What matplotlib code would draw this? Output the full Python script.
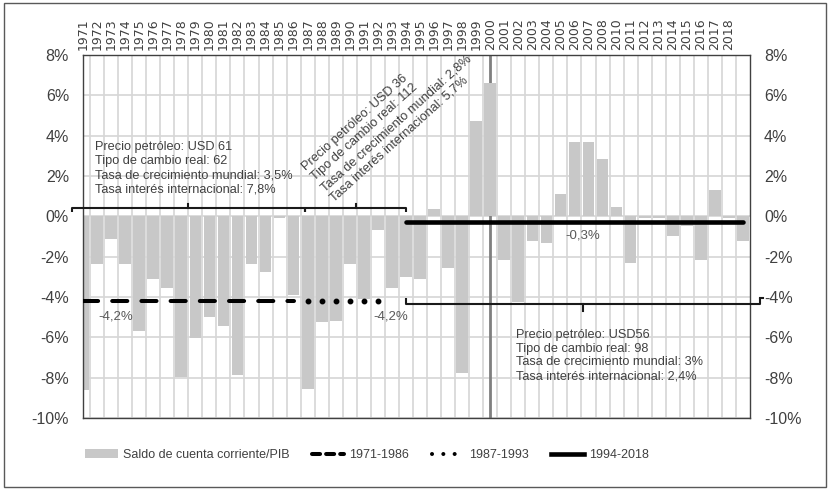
import matplotlib.pyplot as plt
from matplotlib.lines import Line2D
from matplotlib.patches import Patch, Rectangle
import numpy as np

plt.rcParams['font.family'] = ['Liberation Sans', 'DejaVu Sans']

# categorias (la etiqueta 2009 no aparece en el original)
years = [str(y) for y in range(1971, 2009)] + [str(y) for y in range(2010, 2019)] + [""]

# saldo de cuenta corriente / PIB (%)
saldo_cc = [-8.6, -2.35, -1.1, -2.35, -5.7, -3.1, -3.55, -7.95, -6.05, -5.0,
            -5.45, -7.85, -2.35, -2.75, -0.1, -3.9, -8.55, -5.25, -5.2, -2.35,
            -4.1, -0.7, -3.55, -3.0, -3.1, 0.35, -2.55, -7.75, 4.75, 6.6,
            -2.15, -4.25, -1.2, -1.3, 1.1, 3.7, 3.7, 2.85, 0.45, -2.3,
            -0.1, -0.1, -1.0, -0.5, -2.15, 1.3, -0.1, -1.2]

# promedios por periodo
prom_71_86 = [-4.2] * 16
prom_87_93 = [-4.2] * 6
prom_94_18 = [-0.3] * 25

yticks = [-10, -8, -6, -4, -2, 0, 2, 4, 6, 8]

bar_color = '#c8c8c8'
grid_color = '#d6d6d6'
txt = '#404040'
fs = 9.2

x = np.arange(len(years))

fig = plt.figure(figsize=(8.3, 4.9), dpi=100)
ax = fig.add_axes([83 / 830, 1 - 418 / 490, 667 / 830, 363 / 490])

ax.bar(x, saldo_cc, width=0.83, color=bar_color, zorder=2)
ax.axvline(years.index("2000"), color='#7f7f7f', lw=2.0, zorder=1.5)

ax.plot(x[:16], prom_71_86, color='k', lw=2.9, dashes=(3.75, 3.5),
        dash_capstyle='round', zorder=3)
ax.plot(x[16:22], prom_87_93, ls='none', marker='o', ms=3.2, color='k', zorder=3)
ax.plot(x[23:48], prom_94_18, color='k', lw=3.3, solid_capstyle='round', zorder=3)

ax.set_xlim(0, 47.5)
ax.set_ylim(-10, 8)
ax.set_axisbelow(True)

ax.xaxis.tick_top()
ax.set_xticks(x)
ax.set_xticklabels(years, rotation=90, fontfamily='DejaVu Sans', fontsize=9, color=txt)
ax.set_xticks(np.arange(0.5, 47.5, 1), minor=True)
ax.tick_params(axis='x', which='both', length=0, pad=3.5)
ax.grid(which='minor', axis='x', color=grid_color, lw=1.2)

ax.set_yticks(yticks)
ax.set_yticklabels([f"{v}%" for v in yticks], fontsize=11.5, color=txt)
ax.tick_params(axis='y', length=0, labelleft=True, labelright=True, pad=10)
ax.grid(which='major', axis='y', color=grid_color, lw=1.2)

for s in ax.spines.values():
    s.set_color('#404040')
    s.set_linewidth(1.0)


def bracket(x0, x1, xm, y, d_end, d_mid):
    ax.plot([x0, x0, x1, x1], [y + d_end, y, y, y + d_end], color='#1a1a1a', lw=1.5,
            clip_on=False, zorder=4, solid_capstyle='butt')
    ax.plot([xm, xm], [y, y + d_mid], color='#1a1a1a', lw=1.5, clip_on=False, zorder=4)


bracket(-0.78, 15.8, 7.48, 0.4, -0.2, 0.2)
bracket(15.8, 22.98, 19.44, 0.4, -0.2, 0.2)
bracket(23.0, 48.2, 35.6, -4.37, 0.3, -0.3)
ax.plot([48.2, 48.4], [-4.07, -4.07], color='#1a1a1a', lw=1.5, clip_on=False, zorder=4)

ax.text(0.85, 2.38, "Precio petróleo: USD 61\nTipo de cambio real: 62\n"
        "Tasa de crecimiento mundial: 3,5%\nTasa interés internacional: 7,8%",
        fontsize=fs, color=txt, ha='left', va='center', linespacing=1.25, zorder=5)
# bloque girado: anclado al inicio de la ultima linea
ax.text(17.78, 0.79, "Precio petróleo: USD 36\nTipo de cambio real: 112\n"
        "Tasa de crecimiento mundial: 2,8%\nTasa interés internacional: 5,7%",
        fontsize=fs, color=txt, ha='left', va='baseline', rotation=42,
        rotation_mode='anchor', multialignment='left', linespacing=1.2, zorder=5)
ax.text(30.84, -6.9, "Precio petróleo: USD56\nTipo de cambio real: 98\n"
        "Tasa de crecimiento mundial: 3%\nTasa interés internacional: 2,4%",
        fontsize=fs, color=txt, ha='left', va='center', linespacing=1.2, zorder=5)

ax.text(2.35, -4.96, "-4,2%", fontsize=9.5, color='#595959', ha='center', va='center', zorder=5)
ax.text(21.9, -4.96, "-4,2%", fontsize=9.5, color='#595959', ha='center', va='center', zorder=5)
ax.text(35.6, -0.94, "-0,3%", fontsize=9.5, color='#595959', ha='center', va='center', zorder=5)

handles = [
    Patch(facecolor=bar_color, edgecolor='none'),
    Line2D([], [], color='k', lw=2.9, dashes=(2.0, 1.5), dash_capstyle='round'),
    Line2D([], [], color='k', lw=2.9, dashes=(0.01, 2.8), dash_capstyle='round'),
    Line2D([], [], color='k', lw=3.3),
]
labels = ["Saldo de cuenta corriente/PIB", "1971-1986", "1987-1993", "1994-2018"]
fig.legend(handles, labels, loc='center left', bbox_to_anchor=(0.089, 0.071), ncol=4,
           frameon=False, fontsize=9, handlelength=2.6, handletextpad=0.4,
           columnspacing=1.8, labelcolor=txt)

fig.patches.append(Rectangle((4 / 830, 3 / 490), 822 / 830, 484 / 490, transform=fig.transFigure,
                             fill=False, edgecolor='#595959', lw=1.0))

fig.savefig("out.png", dpi=100)
